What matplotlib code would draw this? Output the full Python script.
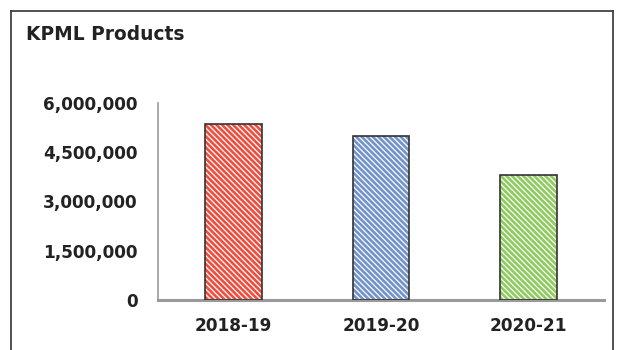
import matplotlib
matplotlib.use("Agg")
import matplotlib.pyplot as plt
from matplotlib.lines import Line2D

categories = ["2018-19", "2019-20", "2020-21"]
values = [5360000, 4990000, 3810000]
colors = ["#F24A3B", "#6E92C9", "#8DCB5B"]
yticks = [0, 1500000, 3000000, 4500000, 6000000]
ytick_labels = ["0", "1,500,000", "3,000,000", "4,500,000", "6,000,000"]

plt.rcParams['font.family'] = ['DejaVu Sans']
plt.rcParams['hatch.linewidth'] = 1.0

W, H = 624, 350
fig = plt.figure(figsize=(W/100, H/100), dpi=100)
ax = fig.add_axes([158/W, 1 - 300/H, (604-158)/W, (300-103)/H])

x = list(range(len(categories)))
ax.bar(x, values, width=0.385, color=colors, edgecolor="#f4f4f4", hatch="\\\\\\\\\\\\", linewidth=0, zorder=2)
ax.bar(x, values, width=0.385, fill=False, edgecolor="#333333", linewidth=1.2, zorder=3)

ax.set_xlim(-0.51, 2.51)
ax.set_ylim(0, 6000000)
ax.set_yticks(yticks)
ax.set_yticklabels(ytick_labels, fontsize=12.2, fontweight="bold", color="#222222")
ax.set_xticks(x)
ax.set_xticklabels(categories, fontsize=12.2, fontweight="bold", color="#222222")
ax.tick_params(axis="y", length=0, pad=14.5)
ax.tick_params(axis="x", length=0, pad=12)
for s in ["top", "right"]:
    ax.spines[s].set_visible(False)
ax.spines["left"].set_color("#9a9a9a")
ax.spines["left"].set_linewidth(1.2)
ax.spines["bottom"].set_color("#9a9a9a")
ax.spines["bottom"].set_linewidth(2.2)

fig.text(26/W, 1 - 35/H, "KPML Products", fontsize=13.4, fontweight="bold", color="#222222", va="center", ha="left")

# outer frame
fx0, fx1, fy0 = 11/W, 612.5/W, 1 - 10.5/H
fig.add_artist(Line2D([fx0, fx0], [0, fy0], color="#333333", lw=1.2, transform=fig.transFigure))
fig.add_artist(Line2D([fx1, fx1], [0, fy0], color="#333333", lw=1.2, transform=fig.transFigure))
fig.add_artist(Line2D([fx0, fx1], [fy0, fy0], color="#333333", lw=1.2, transform=fig.transFigure))

fig.savefig("out.png", dpi=100)
